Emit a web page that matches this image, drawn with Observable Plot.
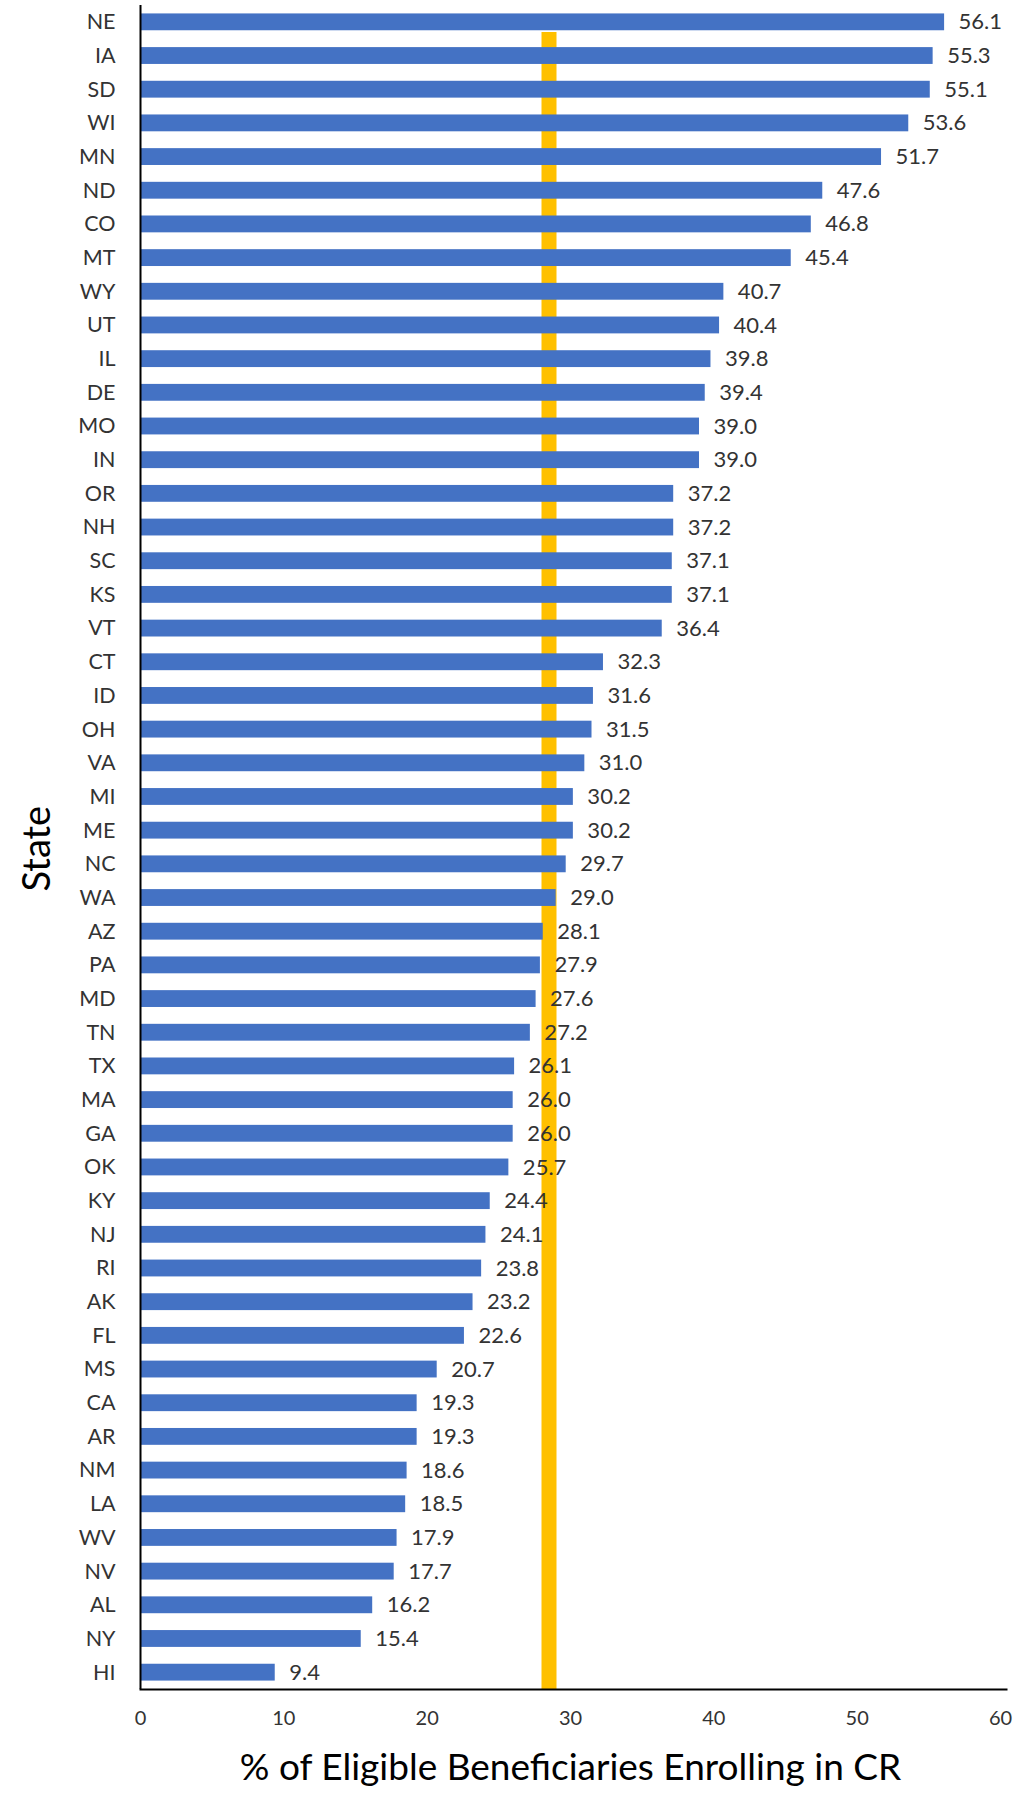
<!DOCTYPE html>
<html>
<head>
<meta charset="utf-8">
<script src="https://cdn.jsdelivr.net/npm/d3@7"></script>
<script src="https://cdn.jsdelivr.net/npm/@observablehq/plot@0.6"></script>
<style>
  html, body { margin: 0; padding: 0; background: #fff; }
  #chart svg { display: block; }
</style>
</head>
<body>
<div id="chart"></div>
<script>
const states = ["NE","IA","SD","WI","MN","ND","CO","MT","WY","UT","IL","DE","MO","IN","OR","NH","SC","KS","VT","CT","ID","OH","VA","MI","ME","NC","WA","AZ","PA","MD","TN","TX","MA","GA","OK","KY","NJ","RI","AK","FL","MS","CA","AR","NM","LA","WV","NV","AL","NY","HI"];
const values = [56.1,55.3,55.1,53.6,51.7,47.6,46.8,45.4,40.7,40.4,39.8,39.4,39.0,39.0,37.2,37.2,37.1,37.1,36.4,32.3,31.6,31.5,31.0,30.2,30.2,29.7,29.0,28.1,27.9,27.6,27.2,26.1,26.0,26.0,25.7,24.4,24.1,23.8,23.2,22.6,20.7,19.3,19.3,18.6,18.5,17.9,17.7,16.2,15.4,9.4];
const xTicks = [0,10,20,30,40,50,60];
const referenceBand = [28.5];
const xLabel = "% of Eligible Beneficiaries Enrolling in CR";
const yLabel = "State";

const data = states.map((s, i) => ({state: s, value: values[i]}));

const chart = Plot.plot({
  width: 1019,
  height: 1800,
  marginTop: 5,
  marginBottom: 111,
  marginLeft: 140,
  marginRight: 19,
  style: {fontFamily: "Lato, 'Open Sans', sans-serif", background: "#fff"},
  x: {domain: [0, 60]},
  y: {domain: states, paddingInner: 0.5, paddingOuter: 0.25},
  marks: [
    Plot.ruleX(referenceBand, {stroke: "#FFC000", strokeWidth: 15, insetTop: 27}),
    Plot.barX(data, {x: "value", y: "state", fill: "#4472C4"}),
    Plot.text(data, {x: "value", y: "state", text: d => d.value.toFixed(1), textAnchor: "start", dx: 14, fontSize: 22, fill: "#333"}),
    Plot.ruleX([0], {stroke: "#000", strokeWidth: 2}),
    Plot.frame({anchor: "bottom", stroke: "#000", strokeWidth: 2, insetRight: -6}),
    Plot.axisY({tickSize: 0, tickPadding: 25, fontSize: 21.5, label: null, color: "#333"}),
    Plot.axisX({ticks: xTicks, tickSize: 0, tickPadding: 21, fontSize: 20, label: null, color: "#333"}),
    Plot.text([yLabel], {frameAnchor: "left", rotate: -90, dx: -103, dy: 44, fontSize: 38, fill: "#000"}),
    Plot.text([xLabel], {frameAnchor: "bottom", dy: 90, fontSize: 37, fill: "#000"})
  ]
});
document.getElementById("chart").appendChild(chart);
</script>
</body>
</html>
